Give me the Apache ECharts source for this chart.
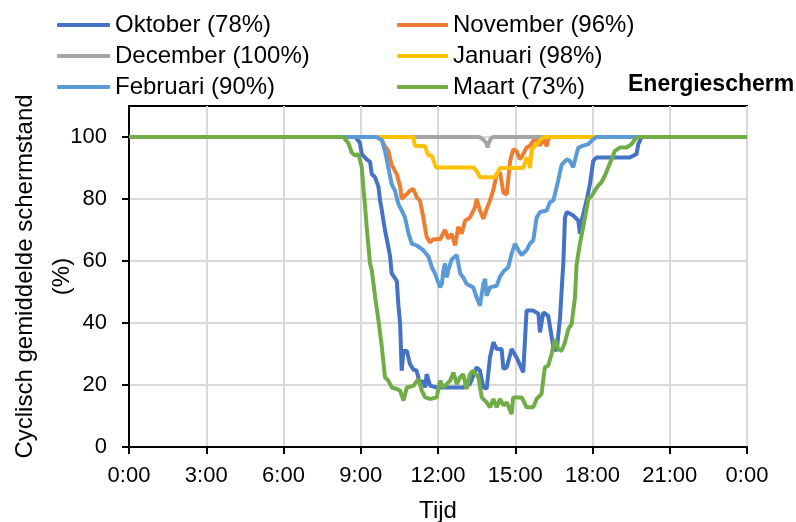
<!DOCTYPE html>
<html>
<head>
<meta charset="utf-8">
<script src="https://cdn.jsdelivr.net/npm/echarts@6/dist/echarts.min.js"></script>
<style>html,body{margin:0;padding:0;background:#fff;}#c{width:796px;height:522px;}</style>
</head>
<body>
<div id="c"></div>
<script>
// ---- data (hour of day, cyclic averaged screen position %) ----
var seriesNames = ['Oktober (78%)', 'November (96%)', 'December (100%)', 'Januari (98%)', 'Februari (90%)', 'Maart (73%)'];
var xTickLabels = ['0:00', '3:00', '6:00', '9:00', '12:00', '15:00', '18:00', '21:00', '0:00'];
var yTickValues = [0, 20, 40, 60, 80, 100];

var oktober = [[0,100],[8.80,100],[8.97,98],[9.04,94.5],[9.23,92.8],[9.36,92],[9.43,88],[9.56,87],[9.69,83.8],[9.75,79.5],[9.82,76.3],[9.88,73],[9.94,70],[10.07,64.6],[10.14,61.4],[10.20,56],[10.40,53.6],[10.46,46],[10.53,39.7],[10.59,24.6],[10.66,31],[10.79,31],[10.91,26.8],[11.04,25],[11.17,24.6],[11.30,20.3],[11.43,21.4],[11.50,19.2],[11.56,23.5],[11.69,19.8],[11.95,19.2],[12.98,19.2],[13.24,20.3],[13.50,25.7],[13.63,24.6],[13.76,19.2],[13.89,18.8],[14.02,29],[14.15,33.8],[14.28,31.6],[14.47,31.6],[14.54,25.2],[14.67,25.7],[14.86,31.6],[15.05,28.9],[15.31,24.1],[15.44,44],[15.70,44],[15.90,43],[15.96,37],[16.09,43.4],[16.28,42.3],[16.48,32.2],[16.61,31],[16.74,41.8],[16.80,50.4],[16.87,59.8],[16.93,74],[17.00,75.8],[17.25,74.7],[17.45,73],[17.51,68.8],[17.58,73],[17.77,79.5],[17.90,84.8],[18.03,92.3],[18.16,93.4],[19.45,93.4],[19.71,94.5],[19.78,97.7],[19.91,100],[24,100]];
var november = [[0,100],[9.70,100],[9.82,99],[9.94,97],[10.07,95.5],[10.20,91],[10.40,88],[10.53,84],[10.59,80],[10.79,81.6],[10.91,82.7],[11.04,83.2],[11.17,80.6],[11.30,79.5],[11.43,74],[11.56,67.8],[11.69,66],[11.82,67],[12.08,67],[12.27,70],[12.40,67.2],[12.53,68.8],[12.66,65],[12.79,71],[12.92,68.8],[13.05,73],[13.24,74],[13.44,77.4],[13.50,80],[13.63,76.3],[13.76,73.6],[13.89,76.8],[14.02,79.5],[14.15,83],[14.28,88],[14.41,88.5],[14.54,82],[14.67,81.5],[14.80,92.3],[14.92,96],[15.05,95.5],[15.18,92.8],[15.31,94.5],[15.44,96.6],[15.57,97.2],[15.70,98.7],[15.83,99.8],[15.96,97.2],[16.09,99.8],[16.22,97],[16.28,99.2],[16.35,100],[24,100]];
var december = [[0,100],[13.60,100],[13.75,99.3],[13.88,98],[13.93,96.6],[13.97,98],[14.05,99.5],[14.15,100],[24,100]];
var januari = [[0,100],[11.04,100],[11.10,97.2],[11.50,97],[11.56,95.5],[11.63,94],[11.76,94],[11.92,90.2],[13.37,90.2],[13.50,89],[13.63,87],[14.21,87],[14.41,90],[15.31,90],[15.44,93.4],[15.52,92],[15.57,90],[15.64,96],[15.83,97.7],[16.09,100],[24,100]];
var februari = [[0,100],[9.60,100],[9.82,99],[9.94,95.5],[10.07,90.2],[10.20,84.8],[10.33,82.7],[10.46,78.4],[10.59,76.3],[10.72,74],[10.85,69],[10.98,65.6],[11.17,65],[11.43,63.5],[11.63,61.4],[11.76,58],[11.88,56],[12.08,51.5],[12.15,52.6],[12.21,56.9],[12.27,59.2],[12.34,54.7],[12.40,57],[12.53,60.5],[12.73,61.9],[12.86,56],[12.98,54.7],[13.11,52.6],[13.37,51.5],[13.50,48.3],[13.63,45.6],[13.76,52.6],[13.83,54.2],[13.89,48.8],[14.02,51.5],[14.28,52],[14.41,55],[14.54,56.6],[14.73,58],[14.86,62.4],[14.99,65.6],[15.12,63.5],[15.25,61.9],[15.44,63.5],[15.57,65.6],[15.70,66.7],[15.83,74],[15.96,75.8],[16.22,76.3],[16.35,79],[16.48,79.5],[16.67,86],[16.80,91],[17.00,92.8],[17.12,92.3],[17.25,90.2],[17.38,94.5],[17.45,96.6],[17.64,97.2],[17.84,97.7],[18.03,99.3],[18.16,100],[24,100]];
var maart = [[0,100],[8.33,100],[8.52,98],[8.65,95],[8.78,94],[8.91,94.5],[9.04,90.2],[9.10,83.8],[9.17,77.4],[9.23,71],[9.30,64.6],[9.36,59.2],[9.43,56.9],[9.56,48.3],[9.69,40.7],[9.82,32.2],[9.94,22.5],[10.07,21.4],[10.20,19.2],[10.40,18.7],[10.53,18.2],[10.66,15],[10.79,19.2],[11.04,19.7],[11.24,22],[11.37,18.2],[11.50,16],[11.69,15.5],[11.95,16],[12.08,21.4],[12.21,19.2],[12.34,20.3],[12.47,21.4],[12.60,24],[12.73,20.3],[12.86,22.5],[12.98,23.5],[13.11,18.7],[13.24,23.5],[13.37,24.6],[13.57,22.5],[13.70,16],[13.89,14.4],[14.02,12.8],[14.15,15.5],[14.28,12.8],[14.41,15.5],[14.54,13.4],[14.67,14.4],[14.86,10.6],[14.92,16],[15.25,16],[15.44,12.8],[15.70,12.8],[15.83,15.5],[16.02,17.1],[16.15,25.7],[16.28,26.2],[16.41,30],[16.54,34.8],[16.67,31.6],[16.80,31],[16.93,33.8],[17.06,38],[17.19,39.7],[17.32,48.3],[17.38,58.7],[17.51,65.6],[17.64,71],[17.77,76.8],[17.84,80],[17.97,81],[18.09,82.7],[18.22,84.3],[18.35,85.4],[18.48,87.5],[18.61,90.2],[18.74,92.8],[18.87,95.5],[19.06,96.6],[19.32,96.6],[19.52,97.7],[19.65,99.3],[19.78,100],[24,100]];

var seriesData = [oktober, november, december, januari, februari, maart];
var colors = ['#4472C4', '#ED7D31', '#A5A5A5', '#FFC000', '#5B9BD5', '#70AD47'];

var FONT = "'Liberation Sans', Arial, sans-serif";
var chart = echarts.init(document.getElementById('c'), null, {renderer: 'canvas'});

function legendFor(left, itemWidth, names) {
  return {
    orient: 'vertical',
    left: left,
    top: 8,
    itemGap: 7,
    itemWidth: itemWidth,
    itemHeight: 4,
    icon: 'roundRect',
    textStyle: {fontFamily: FONT, fontSize: 24, color: '#000'},
    selectedMode: false,
    data: names
  };
}

chart.setOption({
  animation: false,
  backgroundColor: '#fff',
  color: colors,
  grid: {left: 129, right: 49, top: 106, bottom: 75, outerBoundsMode: 'none', containLabel: false,
         show: true, borderColor: '#000', borderWidth: 2, backgroundColor: 'transparent'},
  legend: [
    legendFor(52, 53, [seriesNames[0], seriesNames[2], seriesNames[4]]),
    legendFor(392, 51, [seriesNames[1], seriesNames[3], seriesNames[5]])
  ],
  graphic: [{
    type: 'text', left: 628, top: 73,
    style: {text: 'Energiescherm', fontFamily: FONT, fontSize: 23, fontWeight: 'bold', fill: '#000'}
  }],
  xAxis: {
    type: 'value', min: 0, max: 24, interval: 3,
    name: 'Tijd', nameLocation: 'middle', nameGap: 52, nameMoveOverlap: false,
    nameTextStyle: {fontFamily: FONT, fontSize: 24, color: '#000'},
    axisLine: {show: true, lineStyle: {color: '#000', width: 2}},
    axisTick: {show: true, length: 7, lineStyle: {color: '#000', width: 2}},
    axisLabel: {margin: 18, fontFamily: FONT, fontSize: 22, color: '#000',
      formatter: function (v) { return xTickLabels[Math.round(v / 3)]; }},
    splitLine: {show: true, lineStyle: {color: '#d9d9d9', width: 2}}
  },
  yAxis: {
    type: 'value', min: 0, max: 110,
    name: 'Cyclisch gemiddelde schermstand\n(%)', nameLocation: 'middle', nameGap: 48, nameMoveOverlap: false,
    nameTextStyle: {fontFamily: FONT, fontSize: 24, color: '#000', lineHeight: 37},
    axisLine: {show: true, lineStyle: {color: '#000', width: 2}},
    axisTick: {show: true, length: 7, customValues: yTickValues, lineStyle: {color: '#000', width: 2}},
    axisLabel: {margin: 22, fontFamily: FONT, fontSize: 22, color: '#000', customValues: yTickValues},
    splitLine: {show: true, lineStyle: {color: '#d9d9d9', width: 2}}
  },
  series: seriesData.map(function (d, i) {
    return {
      name: seriesNames[i], type: 'line', data: d, showSymbol: false, symbol: 'none',
      lineStyle: {width: 4, color: colors[i]}, itemStyle: {color: colors[i]},
      emphasis: {disabled: true}
    };
  })
});
</script>
</body>
</html>
